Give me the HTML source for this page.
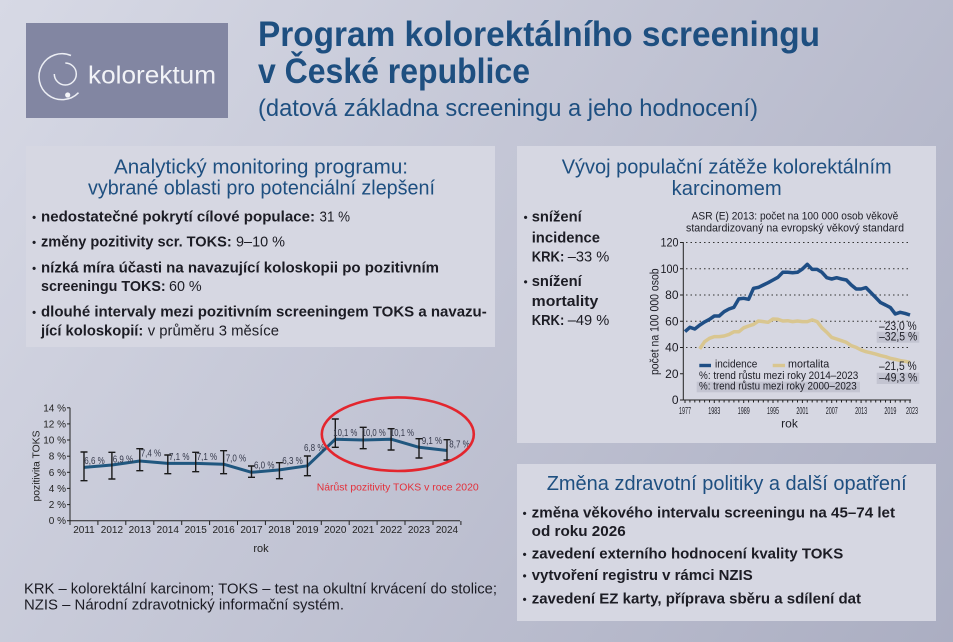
<!DOCTYPE html>
<html><head><meta charset="utf-8">
<style>
html,body{margin:0;padding:0;background:#c4c6d5;}
svg{display:block;}
text{font-family:"Liberation Sans",sans-serif;}
</style></head>
<body>
<svg width="953" height="642" viewBox="0 0 953 642" xmlns="http://www.w3.org/2000/svg">
<defs>
<linearGradient id="bg" gradientUnits="userSpaceOnUse" x1="0" y1="0" x2="953" y2="642">
<stop offset="0" stop-color="#d7d9e5"/>
<stop offset="1" stop-color="#abaec2"/>
</linearGradient>
</defs>
<rect x="0" y="0" width="953" height="642" fill="url(#bg)"/>

<!-- Logo -->
<rect x="26" y="23" width="202" height="95" fill="#8286a2"/>
<path d="M71,55.5 A23,23 0 1 0 78.5,92.7" fill="none" stroke="#eceef4" stroke-width="1.5"/>
<path d="M65.3,63 A11,11 0 1 1 54.3,74" fill="none" stroke="#eceef4" stroke-width="1.5"/>
<circle cx="67.7" cy="95" r="2.6" fill="#f4f5f8"/>
<text x="88" y="83.5" font-size="25" fill="#f2f3f7" textLength="128" lengthAdjust="spacingAndGlyphs">kolorektum</text>

<!-- Main title -->
<text x="258" y="46" font-size="35" font-weight="bold" fill="#1e4f80" textLength="562" lengthAdjust="spacingAndGlyphs">Program kolorektálního screeningu</text>
<text x="258" y="83" font-size="35" font-weight="bold" fill="#1e4f80" textLength="272" lengthAdjust="spacingAndGlyphs">v České republice</text>
<text x="258" y="116" font-size="24" fill="#1e4f80" textLength="500" lengthAdjust="spacingAndGlyphs">(datová základna screeningu a jeho hodnocení)</text>

<!-- Left top panel -->
<rect x="26" y="146" width="469" height="201" fill="#d6d7e2"/>
<text x="114" y="173.3" font-size="20" fill="#1e4f80" textLength="294" lengthAdjust="spacingAndGlyphs">Analytický monitoring programu:</text>
<text x="88" y="194.3" font-size="20" fill="#1e4f80" textLength="347" lengthAdjust="spacingAndGlyphs">vybrané oblasti pro potenciální zlepšení</text>
<g font-size="15" fill="#1c1c24">
<text x="32" y="221.7" font-size="12">•</text>
<text x="41" y="221.7" font-weight="bold" textLength="274" lengthAdjust="spacingAndGlyphs">nedostatečné pokrytí cílové populace:</text>
<text x="319.5" y="221.7" textLength="30.5" lengthAdjust="spacingAndGlyphs">31 %</text>
<text x="32" y="246.7" font-size="12">•</text>
<text x="41" y="246.7" font-weight="bold" textLength="190.7" lengthAdjust="spacingAndGlyphs">změny pozitivity scr. TOKS:</text>
<text x="236" y="246.7" textLength="49" lengthAdjust="spacingAndGlyphs">9–10 %</text>
<text x="32" y="272.3" font-size="12">•</text>
<text x="41" y="272.3" font-weight="bold" textLength="398" lengthAdjust="spacingAndGlyphs">nízká míra účasti na navazující koloskopii po pozitivním</text>
<text x="41" y="291" font-weight="bold" textLength="124.7" lengthAdjust="spacingAndGlyphs">screeningu TOKS:</text>
<text x="169" y="291" textLength="32.7" lengthAdjust="spacingAndGlyphs">60 %</text>
<text x="32" y="316.7" font-size="12">•</text>
<text x="41" y="316.7" font-weight="bold" textLength="445.7" lengthAdjust="spacingAndGlyphs">dlouhé intervaly mezi pozitivním screeningem TOKS a navazu-</text>
<text x="41" y="335.7" font-weight="bold" textLength="102.3" lengthAdjust="spacingAndGlyphs">jící koloskopií:</text>
<text x="147.7" y="335.7" textLength="131.3" lengthAdjust="spacingAndGlyphs">v průměru 3 měsíce</text>
</g>

<!-- Left bottom chart -->
<g stroke="#222" stroke-width="1" fill="none">
<line x1="70" y1="407.8" x2="70" y2="521"/>
<line x1="70" y1="520.7" x2="460" y2="520.7"/>
<line x1="67" y1="520.7" x2="70" y2="520.7"/>
<line x1="67" y1="504.6" x2="70" y2="504.6"/>
<line x1="67" y1="488.4" x2="70" y2="488.4"/>
<line x1="67" y1="472.3" x2="70" y2="472.3"/>
<line x1="67" y1="456.2" x2="70" y2="456.2"/>
<line x1="67" y1="440.0" x2="70" y2="440.0"/>
<line x1="67" y1="423.9" x2="70" y2="423.9"/>
<line x1="67" y1="407.8" x2="70" y2="407.8"/>
<path d="M70,521v4 M97.9,521v4 M125.8,521v4 M153.8,521v4 M181.7,521v4 M209.6,521v4 M237.5,521v4 M265.4,521v4 M293.4,521v4 M321.3,521v4 M349.2,521v4 M377.1,521v4 M405,521v4 M433,521v4 M460.9,521v4"/>
</g>
<g font-size="10" fill="#222" text-anchor="end">
<text x="66" y="524.2">0 %</text>
<text x="66" y="508.1">2 %</text>
<text x="66" y="491.9">4 %</text>
<text x="66" y="475.8">6 %</text>
<text x="66" y="459.7">8 %</text>
<text x="66" y="443.5">10 %</text>
<text x="66" y="427.4">12 %</text>
<text x="66" y="411.3">14 %</text>
</g>
<g font-size="10" fill="#222" text-anchor="middle">
<text x="84" y="533">2011</text>
<text x="111.9" y="533">2012</text>
<text x="139.8" y="533">2013</text>
<text x="167.8" y="533">2014</text>
<text x="195.7" y="533">2015</text>
<text x="223.6" y="533">2016</text>
<text x="251.5" y="533">2017</text>
<text x="279.4" y="533">2018</text>
<text x="307.4" y="533">2019</text>
<text x="335.3" y="533">2020</text>
<text x="363.2" y="533">2021</text>
<text x="391.1" y="533">2022</text>
<text x="419" y="533">2023</text>
<text x="447" y="533">2024</text>
<text x="261" y="552" font-size="11">rok</text>
</g>
<text transform="translate(39.5,466) rotate(-90)" font-size="10" fill="#222" text-anchor="middle" textLength="71" lengthAdjust="spacingAndGlyphs">pozitivita TOKS</text>

<polyline points="84,467.4 111.9,465.0 139.8,461.0 167.8,463.4 195.7,463.4 223.6,464.2 251.5,472.3 279.4,469.9 307.4,465.8 335.3,439.2 363.2,440.0 391.1,439.2 419.0,447.3 447.0,450.5" fill="none" stroke="#20577f" stroke-width="3" stroke-linejoin="round"/>
<g stroke="#1a1a1a" stroke-width="1.4" fill="none">
<path d="M84,452v28.7 M80.5,452h7 M80.5,480.7h7"/>
<path d="M111.9,452.3v26.7 M108.4,452.3h7 M108.4,479h7"/>
<path d="M139.8,448.7v22 M136.3,448.7h7 M136.3,470.7h7"/>
<path d="M167.8,455v18.7 M164.3,455h7 M164.3,473.7h7"/>
<path d="M195.7,452.3v19.4 M192.2,452.3h7 M192.2,471.7h7"/>
<path d="M223.6,450.7v23 M220.1,450.7h7 M220.1,473.7h7"/>
<path d="M251.5,466v11.3 M248,466h7 M248,477.3h7"/>
<path d="M279.4,462.7v16 M275.9,462.7h7 M275.9,478.7h7"/>
<path d="M307.4,456v19.7 M303.9,456h7 M303.9,475.7h7"/>
<path d="M335.3,419v28.3 M331.8,419h7 M331.8,447.3h7"/>
<path d="M363.2,427.3v21.4 M359.7,427.3h7 M359.7,448.7h7"/>
<path d="M391.1,428.7v21.3 M387.6,428.7h7 M387.6,450h7"/>
<path d="M419,438.7v19.3 M415.5,438.7h7 M415.5,458h7"/>
<path d="M447,439.7v20.3 M443.5,439.7h7 M443.5,460h7"/>
</g>
<g font-size="10" fill="#34384a" lengthAdjust="spacingAndGlyphs">
<text x="84.3" y="464" textLength="20.5" lengthAdjust="spacingAndGlyphs">6,6 %</text>
<text x="112.7" y="462.7" textLength="20.5" lengthAdjust="spacingAndGlyphs">6,9 %</text>
<text x="140.7" y="456.7" textLength="20.5" lengthAdjust="spacingAndGlyphs">7,4 %</text>
<text x="169" y="460" textLength="20.5" lengthAdjust="spacingAndGlyphs">7,1 %</text>
<text x="196.7" y="460" textLength="20.5" lengthAdjust="spacingAndGlyphs">7,1 %</text>
<text x="225.7" y="461.7" textLength="20.5" lengthAdjust="spacingAndGlyphs">7,0 %</text>
<text x="254" y="468.7" textLength="20.5" lengthAdjust="spacingAndGlyphs">6,0 %</text>
<text x="282.3" y="464" textLength="20.5" lengthAdjust="spacingAndGlyphs">6,3 %</text>
<text x="304" y="451" textLength="20.5" lengthAdjust="spacingAndGlyphs">6,8 %</text>
<text x="333.3" y="436" textLength="24" lengthAdjust="spacingAndGlyphs">10,1 %</text>
<text x="361.7" y="436" textLength="24" lengthAdjust="spacingAndGlyphs">10,0 %</text>
<text x="390" y="436" textLength="24" lengthAdjust="spacingAndGlyphs">10,1 %</text>
<text x="421.7" y="444" textLength="20.5" lengthAdjust="spacingAndGlyphs">9,1 %</text>
<text x="449.3" y="447.3" textLength="20.5" lengthAdjust="spacingAndGlyphs">8,7 %</text>
</g>
<ellipse cx="397.8" cy="434.2" rx="76" ry="36.8" fill="none" stroke="#e3262e" stroke-width="2.6"/>
<text x="316.7" y="490.7" font-size="10.5" fill="#e3303a" textLength="162" lengthAdjust="spacingAndGlyphs">Nárůst pozitivity TOKS v roce 2020</text>

<!-- Footnote -->
<text x="24" y="593.3" font-size="14.5" fill="#1c1c24" textLength="473" lengthAdjust="spacingAndGlyphs">KRK – kolorektální karcinom; TOKS – test na okultní krvácení do stolice;</text>
<text x="24" y="609.3" font-size="14.5" fill="#1c1c24" textLength="320" lengthAdjust="spacingAndGlyphs">NZIS – Národní zdravotnický informační systém.</text>

<!-- Right top panel -->
<rect x="517" y="146" width="419" height="297" fill="#d6d7e2"/>
<text x="561.7" y="173.3" font-size="20" fill="#1e4f80" textLength="330" lengthAdjust="spacingAndGlyphs">Vývoj populační zátěže kolorektálním</text>
<text x="671.7" y="195" font-size="20" fill="#1e4f80" textLength="110" lengthAdjust="spacingAndGlyphs">karcinomem</text>
<g font-size="15" fill="#1c1c24" font-weight="bold">
<text x="523.5" y="221.7" font-size="12" font-weight="normal">•</text>
<text x="531.7" y="221.7" textLength="50" lengthAdjust="spacingAndGlyphs">snížení</text>
<text x="531.7" y="242.7" textLength="68.3" lengthAdjust="spacingAndGlyphs">incidence</text>
<text x="531.7" y="261.7" textLength="32.6" lengthAdjust="spacingAndGlyphs">KRK:</text>
<text x="567.7" y="261.7" font-weight="normal" textLength="41.6" lengthAdjust="spacingAndGlyphs">–33 %</text>
<text x="523.5" y="286" font-size="12" font-weight="normal">•</text>
<text x="531.7" y="286" textLength="50" lengthAdjust="spacingAndGlyphs">snížení</text>
<text x="531.7" y="306" textLength="66.6" lengthAdjust="spacingAndGlyphs">mortality</text>
<text x="531.7" y="325" textLength="32.6" lengthAdjust="spacingAndGlyphs">KRK:</text>
<text x="567.7" y="325" font-weight="normal" textLength="41.6" lengthAdjust="spacingAndGlyphs">–49 %</text>
</g>
<text x="795" y="219.3" font-size="11" fill="#1c1c24" text-anchor="middle" textLength="206.7" lengthAdjust="spacingAndGlyphs">ASR (E) 2013: počet na 100 000 osob věkově</text>
<text x="795" y="231.3" font-size="11" fill="#1c1c24" text-anchor="middle" textLength="218" lengthAdjust="spacingAndGlyphs">standardizovaný na evropský věkový standard</text>

<!-- grid -->
<g stroke="#333" stroke-width="1" stroke-dasharray="1.5 3" fill="none">
<line x1="686" y1="242.5" x2="909" y2="242.5"/>
<line x1="686" y1="268.75" x2="909" y2="268.75"/>
<line x1="686" y1="295" x2="909" y2="295"/>
<line x1="686" y1="321.25" x2="909" y2="321.25"/>
<line x1="686" y1="347.5" x2="909" y2="347.5"/>
</g>
<!-- legend boxes -->
<rect x="876.7" y="331.7" width="42.6" height="11" fill="#c3c4d1"/>
<rect x="876.7" y="372.7" width="42.6" height="11.3" fill="#c3c4d1"/>
<rect x="696.7" y="381.7" width="163.3" height="10.6" fill="#c3c4d1"/>

<g stroke="#222" stroke-width="1" fill="none">
<line x1="683.3" y1="242" x2="683.3" y2="400.5"/>
<line x1="683" y1="400" x2="911" y2="400"/>
<path d="M680,242.5h3.3 M680,268.75h3.3 M680,295h3.3 M680,321.25h3.3 M680,347.5h3.3 M680,373.75h3.3 M680,400h3.3"/>
<path d="M685,400v3 M689.9,400v2.5 M694.8,400v2.5 M699.7,400v2.5 M704.6,400v2.5 M709.5,400v2.5 M714.3,400v3 M719.2,400v2.5 M724.1,400v2.5 M729,400v2.5 M733.9,400v2.5 M738.8,400v2.5 M743.7,400v3 M748.6,400v2.5 M753.5,400v2.5 M758.4,400v2.5 M763.3,400v2.5 M768.1,400v2.5 M773,400v3 M777.9,400v2.5 M782.8,400v2.5 M787.7,400v2.5 M792.6,400v2.5 M797.5,400v2.5 M802.4,400v3 M807.3,400v2.5 M812.2,400v2.5 M817.1,400v2.5 M821.9,400v2.5 M826.8,400v2.5 M831.7,400v3 M836.6,400v2.5 M841.5,400v2.5 M846.4,400v2.5 M851.3,400v2.5 M856.2,400v2.5 M861.1,400v3 M866,400v2.5 M870.9,400v2.5 M875.7,400v2.5 M880.6,400v2.5 M885.5,400v2.5 M890.4,400v3 M895.3,400v2.5 M900.2,400v2.5 M905.1,400v2.5 M910,400v3"/>
</g>
<g font-size="12" fill="#1c1c24" text-anchor="end">
<text x="678.5" y="246.5" textLength="18" lengthAdjust="spacingAndGlyphs">120</text>
<text x="678.5" y="272.75" textLength="18" lengthAdjust="spacingAndGlyphs">100</text>
<text x="678.5" y="299">80</text>
<text x="678.5" y="325.25">60</text>
<text x="678.5" y="351.5">40</text>
<text x="678.5" y="377.75">20</text>
<text x="678.5" y="404">0</text>
</g>
<g font-size="10.5" fill="#1c1c24" text-anchor="middle">
<text x="685" y="414" textLength="12" lengthAdjust="spacingAndGlyphs">1977</text>
<text x="714.3" y="414" textLength="12" lengthAdjust="spacingAndGlyphs">1983</text>
<text x="743.7" y="414" textLength="12" lengthAdjust="spacingAndGlyphs">1989</text>
<text x="773" y="414" textLength="12" lengthAdjust="spacingAndGlyphs">1995</text>
<text x="802.4" y="414" textLength="12" lengthAdjust="spacingAndGlyphs">2001</text>
<text x="831.7" y="414" textLength="12" lengthAdjust="spacingAndGlyphs">2007</text>
<text x="861.1" y="414" textLength="12" lengthAdjust="spacingAndGlyphs">2013</text>
<text x="890.4" y="414" textLength="12" lengthAdjust="spacingAndGlyphs">2019</text>
<text x="912" y="414" textLength="12" lengthAdjust="spacingAndGlyphs">2023</text>
<text x="789.5" y="427.7" font-size="12">rok</text>
</g>
<text transform="translate(658.5,321.7) rotate(-90)" font-size="11.5" fill="#1c1c24" text-anchor="middle" textLength="106.7" lengthAdjust="spacingAndGlyphs">počet na 100 000 osob</text>

<polyline points="699.7,348.9 704.6,341.7 709.5,338.3 714.3,336.6 719.2,336.6 724.1,336.0 729.0,334.4 733.9,331.8 738.8,331.8 743.7,327.8 748.6,326.0 753.5,324.4 758.4,321.0 763.3,321.6 768.1,322.3 773.0,319.0 777.9,319.3 782.8,321.0 787.7,320.7 792.6,321.6 797.5,321.0 802.4,321.6 807.3,321.6 812.2,319.9 817.1,321.6 821.9,327.8 826.8,332.3 831.7,337.4 836.6,339.0 841.5,340.7 846.4,342.4 851.3,345.7 856.2,347.4 861.1,350.0 866.0,351.7 870.9,352.8 875.7,354.1 880.6,355.6 885.5,356.7 890.4,358.4 895.3,359.3 900.2,360.6 905.1,361.3 910.0,362.3" fill="none" stroke="#d9c690" stroke-width="3.5" stroke-linejoin="round"/>
<polyline points="685.0,331.6 689.9,327.3 694.8,329.0 699.7,325.1 704.6,321.9 709.5,319.3 714.3,316.0 719.2,316.0 724.1,311.7 729.0,309.0 733.9,307.3 738.8,298.9 743.7,298.3 748.6,299.3 753.5,288.3 758.4,287.4 763.3,285.0 768.1,282.7 773.0,280.0 777.9,277.3 782.8,272.3 787.7,272.3 792.6,272.7 797.5,272.3 802.4,269.0 807.3,264.3 812.2,269.4 817.1,269.4 821.9,272.3 826.8,277.7 831.7,279.0 836.6,277.7 841.5,279.0 846.4,280.0 851.3,285.0 856.2,289.0 861.1,289.0 866.0,287.6 870.9,292.6 875.7,297.6 880.6,302.6 885.5,305.0 890.4,307.6 895.3,314.0 900.2,312.3 905.1,313.4 910.0,315.0" fill="none" stroke="#1f4e85" stroke-width="3.5" stroke-linejoin="round"/>

<g font-size="12" fill="#1c1c24">
<text x="879" y="330" textLength="37.7" lengthAdjust="spacingAndGlyphs">–23,0 %</text>
<text x="879" y="340.5" textLength="38.3" lengthAdjust="spacingAndGlyphs">–32,5 %</text>
<text x="879" y="370" textLength="37.7" lengthAdjust="spacingAndGlyphs">–21,5 %</text>
<text x="879" y="381.7" textLength="38.3" lengthAdjust="spacingAndGlyphs">–49,3 %</text>
</g>
<rect x="699.3" y="363.8" width="11.7" height="3.4" fill="#1f4e85"/>
<rect x="772.7" y="363.8" width="12.3" height="3.4" fill="#d9c690"/>
<g font-size="11" fill="#1c1c24">
<text x="715" y="367.7" textLength="42.3" lengthAdjust="spacingAndGlyphs">incidence</text>
<text x="788" y="367.7" textLength="41.3" lengthAdjust="spacingAndGlyphs">mortalita</text>
<text x="699" y="379" textLength="159.3" lengthAdjust="spacingAndGlyphs">%: trend růstu mezi roky 2014–2023</text>
<text x="699" y="389.6" textLength="157.7" lengthAdjust="spacingAndGlyphs">%: trend růstu mezi roky 2000–2023</text>
</g>

<!-- Right bottom panel -->
<rect x="517" y="464" width="419" height="157" fill="#d6d7e2"/>
<text x="546.7" y="490" font-size="20" fill="#1e4f80" textLength="360" lengthAdjust="spacingAndGlyphs">Změna zdravotní politiky a další opatření</text>
<g font-size="15" fill="#1c1c24" font-weight="bold">
<text x="522.5" y="517.3" font-size="12" font-weight="normal">•</text>
<text x="531.7" y="517.3" textLength="363.3" lengthAdjust="spacingAndGlyphs">změna věkového intervalu screeningu na 45–74 let</text>
<text x="531.7" y="536" textLength="94" lengthAdjust="spacingAndGlyphs">od roku 2026</text>
<text x="522.5" y="558.3" font-size="12" font-weight="normal">•</text>
<text x="531.7" y="558.3" textLength="311.6" lengthAdjust="spacingAndGlyphs">zavedení externího hodnocení kvality TOKS</text>
<text x="522.5" y="580" font-size="12" font-weight="normal">•</text>
<text x="531.7" y="580" textLength="221" lengthAdjust="spacingAndGlyphs">vytvoření registru v rámci NZIS</text>
<text x="522.5" y="603.3" font-size="12" font-weight="normal">•</text>
<text x="531.7" y="603.3" textLength="329.3" lengthAdjust="spacingAndGlyphs">zavedení EZ karty, příprava sběru a sdílení dat</text>
</g>
</svg>
</body></html>
